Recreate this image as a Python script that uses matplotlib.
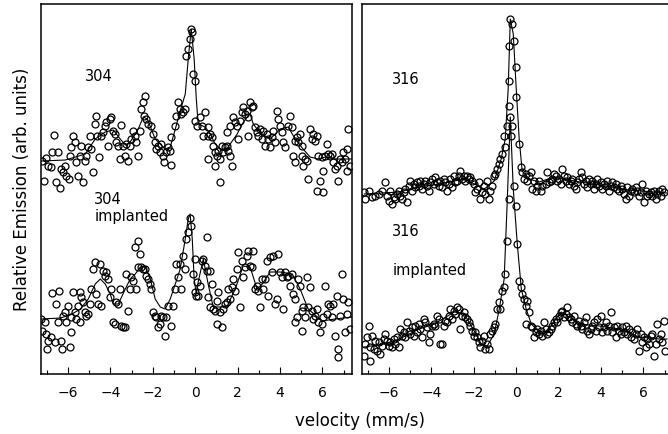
import matplotlib
matplotlib.use('Agg')
import matplotlib.pyplot as plt
import numpy as np
from matplotlib.ticker import MultipleLocator

# --- 304 stainless steel (left panel, upper spectrum) ---
v_304 = [-7.24, -7.12, -7.03, -6.93, -6.79, -6.75, -6.65, -6.56, -6.46, -6.37, -6.32, -6.23, -6.13, -6.08,
         -5.94, -5.90, -5.85, -5.75, -5.66, -5.61, -5.52, -5.42, -5.38, -5.28, -5.19, -5.14, -5.05, -4.95,
         -4.91, -4.81, -4.72, -4.67, -4.62, -4.53, -4.43, -4.34, -4.25, -4.20, -4.10, -4.01, -3.96, -3.87,
         -3.77, -3.73, -3.63, -3.54, -3.49, -3.40, -3.30, -3.25, -3.16, -3.07, -3.02, -2.92, -2.83, -2.78,
         -2.69, -2.59, -2.55, -2.45, -2.41, -2.36, -2.31, -2.22, -2.08, -1.98, -1.89, -1.84, -1.75, -1.65,
         -1.60, -1.51, -1.46, -1.37, -1.27, -1.18, -1.13, -1.13, -0.94, -0.90, -0.80, -0.71, -0.66, -0.57,
         -0.47, -0.42, -0.33, -0.24, -0.19, -0.14, -0.09, 0.00, 0.00, 0.09,
         0.24, 0.33, 0.38, 0.47, 0.61, 0.61, 0.61, 0.71, 0.80, 0.85, 0.94, 0.94, 1.04, 1.08, 1.18, 1.18,
         1.27, 1.32, 1.42, 1.51, 1.51, 1.56, 1.65, 1.65, 1.75, 1.79, 1.89, 1.98, 2.03, 2.12, 2.22, 2.26,
         2.36, 2.45, 2.50, 2.50, 2.59, 2.69, 2.74, 2.83, 2.92, 2.97, 3.07, 3.16, 3.21, 3.30, 3.40, 3.44,
         3.54, 3.63, 3.68, 3.77, 3.87, 3.92, 4.01, 4.10, 4.15, 4.25, 4.39, 4.48, 4.58, 4.62, 4.72, 4.72,
         4.81, 4.86, 4.95, 5.05, 5.05, 5.09, 5.19, 5.28, 5.33, 5.42, 5.52, 5.57, 5.66, 5.75, 5.75, 5.80,
         5.90, 5.99, 6.04, 6.04, 6.13, 6.23, 6.27, 6.37, 6.46, 6.51, 6.60, 6.70, 6.75, 6.84, 6.93, 6.98,
         7.08, 7.17, 7.17, 7.22, 7.31]
e_304 = [2.13, 1.93, 2.16, 2.08, 2.07, 2.22, 2.39, 1.92, 2.22, 1.86, 2.05, 2.02, 2.08, 1.98,
         1.95, 2.18, 2.27, 2.38, 2.32, 2.12, 1.98, 2.18, 2.28, 1.92, 2.13, 2.18, 2.27, 2.38,
         2.25, 2.02, 2.50, 2.58, 2.38, 2.17, 2.38, 2.42, 2.48, 2.52, 2.28, 2.55, 2.57, 2.43,
         2.40, 2.32, 2.28, 2.15, 2.49, 2.28, 2.18, 2.30, 2.13, 2.28, 2.35, 2.43, 2.38, 2.32,
         2.18, 2.43, 2.65, 2.72, 2.58, 2.78, 2.55, 2.50, 2.48, 2.40, 2.32, 2.25, 2.28, 2.22,
         2.30, 2.18, 2.12, 2.22, 2.27, 2.23, 2.37, 2.09, 2.48, 2.58, 2.72, 2.65, 2.60, 2.62,
         2.65, 3.18, 3.25, 3.35, 3.45, 3.42, 3.00, 2.93, 2.53, 2.48,
         2.57, 2.48, 2.38, 2.62, 2.47, 2.38, 2.15, 2.40, 2.37, 2.28, 2.22, 2.08, 2.18, 2.23, 2.15, 1.92,
         2.28, 2.22, 2.27, 2.28, 2.42, 2.23, 2.18, 2.48, 2.08, 2.57, 2.52, 2.48, 2.35, 2.53, 2.62, 2.67,
         2.60, 2.63, 2.57, 2.38, 2.72, 2.67, 2.68, 2.47, 2.42, 2.38, 2.45, 2.35, 2.43, 2.28, 2.40, 2.35,
         2.27, 2.37, 2.43, 2.32, 2.63, 2.55, 2.48, 2.42, 2.32, 2.27, 2.48, 2.58, 2.47, 2.18, 2.12, 2.33,
         2.37, 2.32, 2.40, 2.28, 2.18, 2.08, 2.15, 2.13, 1.95, 2.45, 2.35, 2.40, 2.33, 2.38, 1.83, 2.18,
         1.93, 2.17, 1.82, 2.03, 2.18, 2.30, 2.20, 2.18, 2.20, 2.12, 2.05, 2.08, 1.93, 2.15, 2.12, 2.22,
         2.15, 2.25, 2.03, 2.45, 2.08]
fit_v_304 = [-7.26, -6.13, -5.66, -5.19, -4.72, -4.25, -3.87, -3.54, -3.30, -3.07, -2.69, -2.45, -2.26,
             -1.89, -1.42, -1.18, -0.94, -0.71, -0.47, -0.33, -0.19, -0.05, 0.05, 0.14, 0.47, 0.71, 0.94,
             1.18, 1.42, 1.65, 1.98, 2.22, 2.45, 2.59, 2.74, 2.92, 3.16, 3.54, 4.01, 4.39, 4.72, 5.09,
             5.42, 5.80, 6.13, 6.60, 7.08, 7.41]
fit_e_304 = [2.13, 2.14, 2.17, 2.20, 2.35, 2.42, 2.44, 2.35, 2.29, 2.32, 2.45, 2.57, 2.55,
             2.35, 2.25, 2.27, 2.45, 2.63, 2.80, 3.15, 3.45, 3.15, 2.75, 2.50, 2.47, 2.40, 2.30,
             2.25, 2.23, 2.30, 2.40, 2.50, 2.57, 2.60, 2.50, 2.45, 2.40, 2.35, 2.45, 2.47, 2.35, 2.25,
             2.17, 2.15, 2.17, 2.15, 2.15, 2.15]

# --- 304 implanted (left panel, lower spectrum) ---
v_304i = [-7.26, -7.22, -7.08, -7.03, -6.98, -6.93, -6.79, -6.75, -6.60, -6.56, -6.46, -6.42, -6.32, -6.27,
          -6.23, -6.13, -6.08, -5.99, -5.90, -5.85, -5.85, -5.75, -5.66, -5.61, -5.52, -5.42, -5.42, -5.38,
          -5.28, -5.19, -5.14, -5.05, -4.95, -4.91, -4.81, -4.72, -4.67, -4.58, -4.48, -4.43, -4.34, -4.25,
          -4.20, -4.10, -4.01, -3.96, -3.87, -3.77, -3.73, -3.63, -3.54, -3.49, -3.40, -3.30, -3.25, -3.16,
          -3.07, -3.02, -2.92, -2.83, -2.78, -2.69, -2.69, -2.59, -2.55, -2.45, -2.36, -2.31, -2.22, -2.12,
          -2.08, -1.98, -1.89, -1.84, -1.75, -1.65, -1.60, -1.51, -1.42, -1.37, -1.27, -1.13, -1.04, -0.94,
          -0.90, -0.80, -0.71, -0.66, -0.57, -0.47, -0.42, -0.33, -0.24, -0.19, -0.09, 0.00, 0.05,
          0.00, 0.09, 0.14, 0.24, 0.33, 0.38, 0.47, 0.57, 0.57, 0.61, 0.71, 0.71, 0.80, 0.85, 0.94, 1.04,
          1.04, 1.08, 1.18, 1.27, 1.32, 1.42, 1.51, 1.56, 1.65, 1.75, 1.79, 1.89, 1.98, 2.03, 2.12, 2.22,
          2.26, 2.36, 2.45, 2.50, 2.59, 2.69, 2.74, 2.83, 2.92, 2.97, 3.07, 3.16, 3.21, 3.30, 3.40, 3.44,
          3.54, 3.63, 3.68, 3.77, 3.87, 3.92, 4.01, 4.10, 4.15, 4.25, 4.34, 4.39, 4.48, 4.58, 4.62, 4.72,
          4.72, 4.81, 4.86, 4.95, 5.05, 5.05, 5.09, 5.19, 5.28, 5.33, 5.42, 5.52, 5.57, 5.66, 5.75, 5.80,
          5.90, 5.99, 6.04, 6.13, 6.23, 6.27, 6.37, 6.46, 6.51, 6.60, 6.70, 6.75, 6.75, 6.84, 6.93, 6.98,
          7.08, 7.17, 7.22, 7.31]
e_304i = [0.55, 0.43, 0.52, 0.40, 0.25, 0.33, 0.37, 0.81, 0.32, 0.70, 0.52, 0.83, 0.33, 0.25,
          0.58, 0.62, 0.52, 0.68, 0.27, 0.57, 0.42, 0.82, 0.62, 0.55, 0.68, 0.82, 0.52, 0.77,
          0.72, 0.62, 0.58, 0.60, 0.70, 0.85, 1.05, 1.12, 0.80, 0.70, 1.10, 0.68, 1.03, 0.98,
          1.02, 0.95, 0.77, 0.85, 0.52, 0.50, 0.72, 0.70, 0.85, 0.48, 0.47, 0.47, 1.00, 0.63,
          0.85, 0.97, 0.93, 1.27, 0.85, 1.33, 1.07, 1.20, 1.07, 1.05, 1.05, 0.98, 0.95, 0.90,
          0.85, 0.62, 0.58, 0.57, 0.47, 0.50, 0.58, 0.57, 0.38, 0.57, 0.68, 0.48, 0.68, 0.85,
          1.10, 0.97, 1.10, 0.85, 1.18, 1.05, 1.35, 1.42, 1.56, 1.48, 1.00, 0.82, 0.78,
          1.15, 0.92, 0.78, 0.88, 1.13, 1.15, 1.08, 1.37, 1.03, 0.77, 1.03, 0.67, 0.90, 0.65, 0.63, 0.73,
          0.50, 0.82, 0.62, 0.47, 0.65, 0.70, 0.72, 0.85, 0.75, 0.87, 0.95, 0.83, 1.05, 1.22, 0.67, 1.13,
          0.97, 1.07, 1.18, 1.23, 1.08, 1.07, 1.23, 0.85, 0.88, 0.83, 0.67, 0.95, 0.85, 0.95, 1.13, 0.78,
          1.17, 1.02, 1.18, 0.70, 0.75, 1.20, 1.02, 0.97, 0.65, 1.02, 0.97, 0.98, 0.88, 1.00, 0.80, 0.75,
          0.52, 0.57, 0.95, 0.88, 0.63, 0.43, 0.67, 0.57, 0.97, 0.67, 0.87, 0.63, 0.55, 0.58, 0.65, 0.52,
          0.42, 0.50, 0.57, 0.88, 0.60, 0.70, 0.68, 0.57, 0.70, 0.38, 0.78, 0.25, 0.17, 0.58, 1.00, 0.75,
          0.42, 0.60, 0.72, 0.45]
fit_v_304i = [-7.26, -6.37, -5.90, -5.42, -5.05, -4.72, -4.48, -4.25, -4.01, -3.87, -3.63, -3.30, -3.07,
              -2.83, -2.59, -2.36, -2.12, -1.89, -1.65, -1.42, -1.18, -0.94, -0.71, -0.47, -0.33, -0.24,
              -0.14, -0.05, 0.05, 0.14, 0.38, 0.61, 0.85, 1.18, 1.51, 1.89, 2.26, 2.59, 2.92, 3.16, 3.54,
              4.01, 4.58, 4.95, 5.33, 5.99, 6.60, 7.41]
fit_e_304i = [0.55, 0.56, 0.59, 0.65, 0.75, 0.90, 0.95, 0.90, 0.80, 0.70, 0.70, 0.85, 0.95,
              1.00, 1.07, 1.07, 0.95, 0.75, 0.67, 0.65, 0.75, 0.90, 1.05, 1.35, 1.55, 1.60,
              1.35, 0.95, 0.80, 0.92, 1.15, 0.90, 0.67, 0.67, 0.68, 0.85, 1.08, 1.07, 0.85, 0.90, 1.02,
              1.02, 1.00, 0.85, 0.65, 0.53, 0.55, 0.57]

# --- 316 stainless steel (right panel, upper spectrum) ---
v_316 = [-7.17, -7.12, -6.93, -6.79, -6.65, -6.46, -6.32, -6.18, -6.08, -5.99, -5.94, -5.85, -5.75, -5.71,
         -5.61, -5.52, -5.47, -5.38, -5.28, -5.24, -5.14, -5.05, -5.00, -4.91, -4.81, -4.76, -4.67, -4.58,
         -4.53, -4.43, -4.34, -4.29, -4.20, -4.10, -4.06, -3.96, -3.87, -3.82, -3.73, -3.63, -3.58, -3.49,
         -3.40, -3.35, -3.25, -3.16, -3.11, -3.02, -2.92, -2.88, -2.78, -2.69, -2.64, -2.55, -2.45, -2.41,
         -2.31, -2.22, -2.17, -2.08, -1.98, -1.93, -1.84, -1.75, -1.70, -1.60, -1.51, -1.46, -1.37, -1.27,
         -1.23, -1.13, -1.04, -0.99, -0.90, -0.80, -0.75, -0.66, -0.57, -0.52, -0.42, -0.33, -0.33, -0.33,
         -0.28, -0.19, -0.09, 0.00, 0.00, 0.14, 0.24, 0.28, 0.38, 0.47, 0.52, 0.61, 0.71, 0.75, 0.85, 0.94,
         0.99, 1.08, 1.18, 1.23, 1.42, 1.46, 1.56, 1.65, 1.70, 1.79, 1.89, 1.93, 2.03, 2.12, 2.17, 2.26,
         2.36, 2.41, 2.50, 2.59, 2.64, 2.74, 2.83, 2.88, 2.97, 3.07, 3.11, 3.21, 3.30, 3.35, 3.44, 3.54,
         3.58, 3.68, 3.77, 3.82, 3.92, 4.01, 4.06, 4.15, 4.25, 4.29, 4.39, 4.48, 4.53, 4.62, 4.72, 4.76,
         4.86, 4.95, 5.00, 5.09, 5.19, 5.24, 5.33, 5.42, 5.47, 5.57, 5.66, 5.71, 5.80, 5.90, 5.94, 6.04,
         6.13, 6.18, 6.27, 6.37, 6.42, 6.51, 6.60, 6.65, 6.75, 6.84, 6.89, 6.98]
e_316 = [1.82, 1.75, 1.83, 1.77, 1.78, 1.80, 1.83, 1.92, 1.78, 1.73, 1.83, 1.70, 1.77, 1.75,
         1.80, 1.83, 1.78, 1.75, 1.82, 1.85, 1.72, 1.88, 1.93, 1.83, 1.90, 1.87, 1.92, 1.88,
         1.93, 1.85, 1.90, 1.93, 1.88, 1.83, 1.92, 1.95, 1.90, 1.97, 1.92, 1.88, 1.93, 1.87,
         1.95, 1.92, 1.83, 1.90, 1.95, 1.87, 1.98, 1.92, 1.93, 1.98, 2.03, 1.95, 1.98, 1.93,
         1.98, 1.95, 1.97, 1.93, 1.90, 1.82, 1.85, 1.92, 1.75, 1.82, 1.88, 1.80, 1.93, 1.75,
         1.83, 1.88, 1.98, 2.00, 2.05, 2.10, 2.15, 2.20, 2.38, 2.27, 2.48, 2.68, 2.93, 3.28,
         3.55, 3.50, 3.33, 3.07, 2.77, 2.30, 2.07, 2.02, 1.95, 2.00, 1.93, 1.98, 2.02, 1.85, 1.93, 1.83,
         1.88, 1.93, 1.83, 1.88, 1.90, 2.02, 1.92, 1.93, 1.95, 2.00, 1.98, 1.93, 1.95, 1.90, 2.05, 1.98,
         1.93, 1.97, 1.90, 1.93, 1.95, 1.88, 1.85, 1.92, 1.95, 2.02, 1.97, 1.90, 1.93, 1.87, 1.95, 1.90,
         1.93, 1.85, 1.90, 1.95, 1.88, 1.92, 1.85, 1.90, 1.88, 1.93, 1.83, 1.88, 1.92, 1.87, 1.90, 1.85,
         1.83, 1.88, 1.85, 1.80, 1.75, 1.87, 1.78, 1.83, 1.85, 1.82, 1.87, 1.83, 1.78, 1.82, 1.90, 1.72,
         1.83, 1.78, 1.80, 1.82, 1.78, 1.83, 1.75, 1.80, 1.83, 1.78, 1.85, 1.82]
fit_v_316 = [-7.17, -5.52, -4.58, -3.63, -2.45, -1.98, -1.51, -1.04, -0.71, -0.52, -0.38, -0.28, -0.14,
             0.00, 0.14, 0.28, 0.61, 1.08, 1.79, 2.74, 3.92, 5.33, 7.12]
fit_e_316 = [1.80, 1.82, 1.87, 1.90, 1.95, 1.90, 1.85, 1.93, 2.15, 2.35, 2.85, 3.55, 3.40,
             2.85, 2.35, 2.03, 1.95, 1.92, 1.97, 1.93, 1.89, 1.84, 1.81]

# --- 316 implanted (right panel, lower spectrum) ---
v_316i = [-7.17, -7.12, -7.03, -6.93, -6.89, -6.89, -6.79, -6.70, -6.65, -6.56, -6.46, -6.42, -6.32, -6.23,
          -6.18, -6.08, -5.99, -5.94, -5.85, -5.75, -5.71, -5.61, -5.52, -5.47, -5.38, -5.28, -5.24, -5.14,
          -5.05, -5.00, -4.91, -4.81, -4.76, -4.67, -4.58, -4.53, -4.43, -4.34, -4.29, -4.20, -4.10, -4.06,
          -3.96, -3.87, -3.82, -3.73, -3.63, -3.58, -3.49, -3.40, -3.35, -3.25, -3.16, -3.11, -3.02, -2.92,
          -2.88, -2.78, -2.69, -2.64, -2.55, -2.45, -2.41, -2.31, -2.22, -2.17, -2.08, -1.98, -1.93, -1.84,
          -1.75, -1.70, -1.60, -1.51, -1.46, -1.37, -1.27, -1.23, -1.13, -1.04, -0.99, -0.90, -0.80, -0.75,
          -0.66, -0.57, -0.52, -0.42, -0.33, -0.28, -0.24, -0.19, -0.09, 0.00, 0.05, 0.14, 0.24, 0.28, 0.38,
          0.47, 0.47, 0.52, 0.61, 0.71, 0.75, 0.85, 0.94, 0.99, 1.08, 1.18, 1.23, 1.32, 1.42, 1.46, 1.56,
          1.65, 1.70, 1.79, 1.89, 1.93, 2.03, 2.12, 2.17, 2.26, 2.36, 2.41, 2.50, 2.59, 2.64, 2.74, 2.83,
          2.88, 2.97, 3.07, 3.11, 3.21, 3.30, 3.35, 3.44, 3.54, 3.58, 3.68, 3.77, 3.82, 3.92, 4.01, 4.06,
          4.15, 4.25, 4.29, 4.39, 4.48, 4.53, 4.62, 4.72, 4.76, 4.86, 4.95, 5.00, 5.09, 5.19, 5.24, 5.33,
          5.42, 5.47, 5.57, 5.66, 5.71, 5.80, 5.90, 5.94, 6.04, 6.13, 6.18, 6.27, 6.37, 6.42, 6.51, 6.60,
          6.65, 6.75, 6.84, 6.89, 6.98, 7.03]
e_316i = [0.18, 0.30, 0.37, 0.48, 0.13, 0.27, 0.38, 0.25, 0.33, 0.23, 0.32, 0.20, 0.28, 0.35,
          0.40, 0.33, 0.28, 0.32, 0.27, 0.35, 0.30, 0.37, 0.27, 0.45, 0.38, 0.42, 0.37, 0.52,
          0.43, 0.40, 0.47, 0.38, 0.48, 0.42, 0.50, 0.45, 0.37, 0.55, 0.52, 0.47, 0.32, 0.40,
          0.48, 0.50, 0.48, 0.58, 0.55, 0.30, 0.30, 0.48, 0.53, 0.52, 0.58, 0.65, 0.55, 0.63,
          0.60, 0.67, 0.65, 0.45, 0.58, 0.62, 0.57, 0.55, 0.52, 0.48, 0.43, 0.38, 0.42, 0.37,
          0.32, 0.27, 0.33, 0.38, 0.25, 0.30, 0.25, 0.40, 0.43, 0.47, 0.50, 0.65, 0.72, 0.65,
          0.83, 0.87, 1.00, 1.33, 1.75, 2.57, 2.38, 2.48, 1.88, 1.68, 1.30, 0.93, 0.87, 0.80, 0.75,
          0.68, 0.50, 0.73, 0.62, 0.48, 0.47, 0.37, 0.42, 0.45, 0.40, 0.43, 0.38, 0.52, 0.45, 0.40, 0.42,
          0.45, 0.48, 0.52, 0.55, 0.52, 0.58, 0.62, 0.63, 0.57, 0.60, 0.67, 0.57, 0.55, 0.52, 0.58, 0.50,
          0.48, 0.53, 0.48, 0.45, 0.52, 0.57, 0.43, 0.40, 0.45, 0.48, 0.52, 0.43, 0.55, 0.47, 0.58, 0.42,
          0.47, 0.52, 0.43, 0.48, 0.62, 0.42, 0.47, 0.37, 0.48, 0.43, 0.40, 0.47, 0.42, 0.48, 0.40, 0.45,
          0.37, 0.42, 0.35, 0.40, 0.45, 0.23, 0.40, 0.32, 0.37, 0.27, 0.35, 0.30, 0.38, 0.40, 0.18, 0.30,
          0.50, 0.35, 0.40, 0.32, 0.53, 0.23]
fit_v_316i = [-7.17, -6.23, -5.52, -4.58, -3.87, -2.92, -2.45, -1.98, -1.65, -1.37, -1.04, -0.80, -0.57,
              -0.42, -0.28, -0.14, 0.05, 0.24, 0.47, 0.71, 1.08, 1.46, 1.79, 2.12, 2.50, 2.97, 3.92, 4.86,
              5.80, 6.75, 7.12]
fit_e_316i = [0.27, 0.30, 0.35, 0.45, 0.50, 0.62, 0.60, 0.43, 0.30, 0.28, 0.40, 0.65, 0.95,
              1.75, 2.57, 1.85, 1.30, 0.85, 0.65, 0.50, 0.42, 0.42, 0.53, 0.62, 0.57, 0.50, 0.48, 0.45,
              0.37, 0.35, 0.35]

# panel labels: (text, velocity, emission)
labels_304 = [('304', -5.19, 2.99), ('304\nimplanted', -4.76, 1.67)]
labels_316 = [('316', -5.85, 2.96), ('316', -5.85, 1.43), ('implanted', -5.85, 1.04)]
tick_labels = ['\u22126', '\u22124', '\u22122', '0', '2', '4', '6']

plt.rcParams['font.family'] = ['DejaVu Sans']

W, H = 668, 435
fig = plt.figure(figsize=(W / 100, H / 100), dpi=100)
ax_l = fig.add_axes([41 / W, 60 / H, 311 / W, 370 / H])
ax_r = fig.add_axes([362 / W, 60 / H, 311 / W, 370 / H])


def draw_spectrum(ax, v, e, fit_v, fit_e):
    ax.plot(fit_v, fit_e, color='black', lw=0.8, zorder=2)
    ax.plot(v, e, linestyle='none', marker='o', ms=5.0, mfc='none', mec='black', mew=0.9,
            zorder=3, clip_on=True)


draw_spectrum(ax_l, v_304, e_304, fit_v_304, fit_e_304)
draw_spectrum(ax_l, v_304i, e_304i, fit_v_304i, fit_e_304i)
draw_spectrum(ax_r, v_316, e_316, fit_v_316, fit_e_316)
draw_spectrum(ax_r, v_316i, e_316i, fit_v_316i, fit_e_316i)

for ax, labels in ((ax_l, labels_304), (ax_r, labels_316)):
    for txt, x, y in labels:
        ax.text(x, y, txt, fontsize=10.5, ha='left', va='center', linespacing=1.2)
    ax.set_xlim(-7.28, 7.4)
    ax.set_ylim(0, 3.7)
    ax.xaxis.set_major_locator(MultipleLocator(2))
    ax.xaxis.set_minor_locator(MultipleLocator(1))
    ax.set_xticks([-6, -4, -2, 0, 2, 4, 6])
    ax.set_xticklabels(tick_labels)
    ax.tick_params(axis='x', which='major', direction='in', length=5, width=0.8, labelsize=10, pad=8)
    ax.tick_params(axis='x', which='minor', direction='in', length=3, width=0.8)
    ax.set_yticks([])
    for sp in ax.spines.values():
        sp.set_linewidth(1.1)

fig.text(22 / W, 1 - 189 / H, 'Relative Emission (arb. units)', rotation=90,
         ha='center', va='center', fontsize=12)
fig.text(360 / W, 1 - 421 / H, 'velocity (mm/s)', ha='center', va='center', fontsize=12)

fig.savefig('out.png', dpi=100)
